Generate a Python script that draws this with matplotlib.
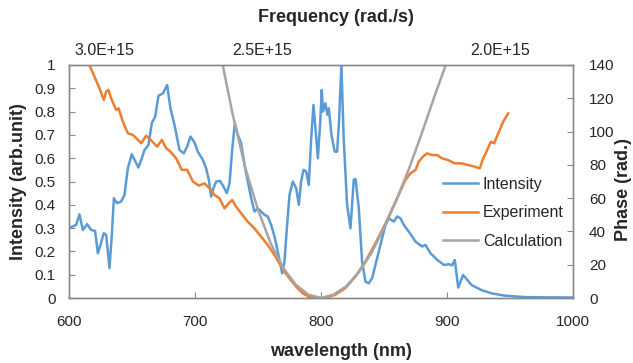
import matplotlib.pyplot as plt
import numpy as np

_BLUE = '#5B9BD5'
_ORANGE = '#ED7D31'
_GRAY = '#A5A5A5'
_SPINE = '#898989'
_TEXT = '#262626'

_FONT = 'Liberation Sans'
_TICK_SIZE = 11
_LEGEND_SIZE = 11.5
_LABEL_SIZE = 13

# Intensity spectrum (wavelength nm, arb. unit)
intensity_wl = [
    600, 605.7, 608.3, 611, 614.4, 617.6, 620.7, 622.9, 625, 627.6, 629.5,
    632.1, 634, 635.6, 638.2, 641.4, 644, 646.7, 649.8, 652.5, 655.1, 657.8,
    659.9, 663.1, 665.7, 668.4, 671, 674.5, 677.9, 680.5, 683.7, 687.7, 691.1,
    693.8, 696.4, 699.6, 702.2, 706.2, 708.8, 711, 712.8, 714.6, 716.8, 720,
    722.6, 725.2, 727.4, 729.5, 731.6, 734, 736.6, 739.3, 741.9, 744.6, 747.2,
    749.8, 752.5, 755.1, 757.8, 760.4, 763.1, 765.7, 767.6, 769.2, 771, 772.9,
    775, 777.6, 780.3, 782.4, 784.2, 786.1, 788.2, 790.3, 792.2, 794, 795.6,
    797.5, 799.4, 800.6, 801.6, 803.5, 805.1, 806.2, 808.3, 810.9, 812.8,
    814.3, 816.2, 818, 820.7, 823.4, 826, 827.4, 830, 832.6, 835.3, 837.9,
    840.6, 843.2, 847.2, 851.2, 853.8, 857.8, 860.4, 863.1, 865.7, 869.7, 875,
    880.3, 882.9, 886.9, 892.2, 897.5, 901.4, 904, 906.2, 908.9, 912.8, 919.4,
    927.4, 935.3, 945.9, 961.5, 975, 1000,
]
intensity_val = [
    0.30, 0.314, 0.359, 0.292, 0.317, 0.292, 0.288, 0.192, 0.228, 0.278, 0.271,
    0.128, 0.271, 0.428, 0.407, 0.414, 0.442, 0.557, 0.617, 0.588, 0.560, 0.600,
    0.635, 0.657, 0.750, 0.778, 0.868, 0.878, 0.914, 0.814, 0.743, 0.635, 0.621,
    0.650, 0.693, 0.668, 0.628, 0.593, 0.557, 0.507, 0.435, 0.471, 0.500, 0.502,
    0.478, 0.450, 0.492, 0.635, 0.750, 0.700, 0.664, 0.571, 0.500, 0.428, 0.371,
    0.385, 0.371, 0.357, 0.350, 0.314, 0.264, 0.199, 0.149, 0.106, 0.156, 0.300,
    0.442, 0.500, 0.471, 0.400, 0.500, 0.550, 0.543, 0.485, 0.685, 0.828, 0.728,
    0.600, 0.757, 0.893, 0.800, 0.836, 0.786, 0.814, 0.700, 0.628, 0.628,
    0.757, 1.0, 0.686, 0.400, 0.299, 0.507, 0.511, 0.385, 0.156, 0.070, 0.063,
    0.085, 0.142, 0.228, 0.314, 0.342, 0.328, 0.350, 0.342, 0.314, 0.285, 0.242,
    0.221, 0.228, 0.192, 0.164, 0.142, 0.145, 0.140, 0.163, 0.045, 0.099, 0.056,
    0.034, 0.020, 0.010, 0.004, 0.003, 0.002,
]

# Measured phase (rad.)
experiment_wl = [
    616.2, 620.2, 624.2, 627.6, 629.5, 631.3, 633.4, 637.4, 639.3, 642.7, 646.7,
    650.6, 654.1, 657.3, 661.2, 665.7, 670, 673.7, 677.1, 680.5, 685, 689.5,
    693.8, 698.3, 703, 707.5, 711.5, 715.4, 719.4, 723.4, 726.8, 729.5, 732.6,
    736.6, 741.9, 747.2, 752.5, 757.8, 763.1, 767, 771, 775, 780.3, 785.6,
    790.9, 797, 803.5, 811.5, 819.4, 827.4, 835.3, 843.2, 851.2, 859.1, 867,
    871, 875, 877.6, 880.8, 884.2, 888.2, 892.2, 896.1, 900.9, 906.2, 911.5,
    916.8, 922.1, 926, 928.7, 931.3, 934.8, 937.4, 940.6, 944.6, 948.5,
]
experiment_val = [
    140, 133, 126, 119, 124, 125, 120, 113, 114, 106, 99,
    98, 95.5, 93, 97.5, 94.3, 91, 95, 90, 88, 84, 77,
    77, 70, 67.5, 68.9, 65.9, 61.9, 59.9, 53.9, 56.9, 58.9, 54.9,
    50.9, 45.8, 41.8, 36.8, 31.8, 25.8, 20.8, 15.8, 11.8, 6.8, 2.8,
    0.5, 0, 0, 2, 6, 13, 22, 32.8, 44.8, 57.9, 70.9,
    74.9, 76.9, 81.9, 84.9, 86.9, 85.9, 85.9, 83.9, 82.9, 80.9, 80.9,
    79.9, 78.9, 77.9, 83.9, 87.9, 93.9, 92.9, 98.9, 105.9, 110.9,
]

# Calculated phase (rad.)
calculation_wl = [722, 730, 740, 750, 760, 770, 780, 790, 800, 810, 820, 830,
                  840, 850, 860, 870, 880, 890, 899]
calculation_val = [140, 110, 78, 53, 33, 18, 8, 2, 0, 2, 7, 15.5,
                   27, 42, 59, 78, 99, 121, 140]

freq_ticks = [3.0e15, 2.5e15, 2.0e15]

_TWO_PI_C = 2 * np.pi * 2.998e17  # nm/s


def _wl_to_freq(wl):
    wl = np.asarray(wl, dtype=float)
    return _TWO_PI_C / np.where(wl == 0, 1e-9, wl)


def _freq_to_wl(f):
    f = np.asarray(f, dtype=float)
    return _TWO_PI_C / np.where(f == 0, 1e-9, f)


plt.rcParams['font.family'] = [_FONT, 'DejaVu Sans']

fig = plt.figure(figsize=(6.33, 3.63), dpi=100)
ax1 = fig.add_axes([69 / 633, 1 - 298 / 363, 504 / 633, 233 / 363])
ax2 = ax1.twinx()

l1, = ax1.plot(intensity_wl, intensity_val, color=_BLUE, lw=1.8, label='Intensity')
l2, = ax2.plot(experiment_wl, experiment_val, color=_ORANGE, lw=1.8, label='Experiment')
l3, = ax2.plot(calculation_wl, calculation_val, color=_GRAY, lw=1.8, label='Calculation')

ax1.set_xlim(600, 1000)
ax1.set_ylim(0, 1)
ax2.set_ylim(0, 140)
ax1.set_xticks([600, 700, 800, 900, 1000])
ax1.set_yticks(np.arange(0, 1.01, 0.1))
ax1.set_yticklabels(['0', '0.1', '0.2', '0.3', '0.4', '0.5', '0.6', '0.7',
                     '0.8', '0.9', '1'])
ax2.set_yticks(range(0, 141, 20))

for ax in (ax1, ax2):
    for s in ax.spines.values():
        s.set_color(_SPINE)
        s.set_linewidth(1.0)
ax1.tick_params(axis='both', direction='in', length=4, color=_SPINE,
                labelsize=_TICK_SIZE, labelcolor=_TEXT)
ax1.tick_params(axis='x', pad=12)
ax1.tick_params(axis='y', pad=9.5)
ax2.tick_params(axis='y', direction='in', length=4, color=_SPINE,
                labelsize=_TICK_SIZE, labelcolor=_TEXT, pad=11.5)

# Frequency axis on top
secax = ax1.secondary_xaxis('top', functions=(_wl_to_freq, _freq_to_wl))
secax.set_xticks(freq_ticks)
secax.set_xticklabels(['%.1fE+15' % (f / 1e15) for f in freq_ticks])
secax.tick_params(length=0, labelsize=_LEGEND_SIZE, labelcolor=_TEXT, pad=5)
secax.spines['top'].set_visible(False)

fig.text(336 / 633, 1 - 18 / 363, 'Frequency (rad./s)', ha='center', va='center',
         fontsize=_LABEL_SIZE, fontweight='bold', color=_TEXT)
fig.text(341 / 633, 1 - 352 / 363, 'wavelength (nm)', ha='center', va='center',
         fontsize=_LABEL_SIZE, fontweight='bold', color=_TEXT)
fig.text(19 / 633, 1 - 182 / 363, 'Intensity (arb.unit)', ha='center', va='center',
         rotation=90, fontsize=_LABEL_SIZE, fontweight='bold', color=_TEXT)
fig.text(624 / 633, 1 - 190 / 363, 'Phase (rad.)', ha='center', va='center',
         rotation=90, fontsize=_LABEL_SIZE, fontweight='bold', color=_TEXT)

leg = ax2.legend(handles=[l1, l2, l3], loc='center left',
                 bbox_to_anchor=(0.742, (298 - 213) / 233), frameon=False,
                 fontsize=_LEGEND_SIZE, borderpad=0, borderaxespad=0,
                 handlelength=2.2, handletextpad=0.3, labelspacing=0.85)
for t in leg.get_texts():
    t.set_color(_TEXT)

plt.savefig('out.png', dpi=100)
